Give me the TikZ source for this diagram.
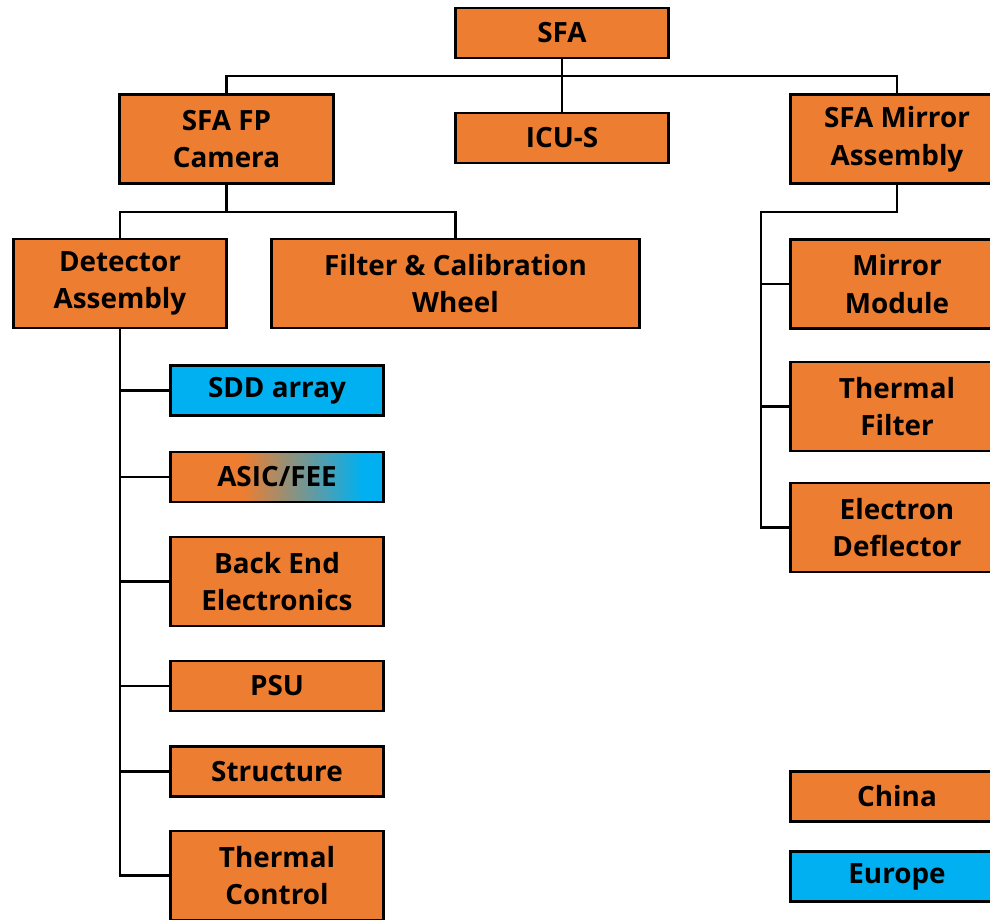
\documentclass[tikz,border=0pt]{standalone}
\usepackage{fontspec}
\setmainfont{Open Sans}
\definecolor{orangebox}{HTML}{ED7D31}
\definecolor{bluebox}{HTML}{00B0F0}
% orange on the left, fading into blue on the right
\pgfdeclarehorizontalshading{asicfade}{100bp}{color(0bp)=(orangebox); color(42bp)=(orangebox); color(70bp)=(bluebox); color(100bp)=(bluebox)}

\begin{document}
\begin{tikzpicture}[x=0.025cm, y=-0.025cm,
    box/.style={draw, line width=2.1pt, fill=orangebox, align=center,
      minimum width=5.325cm, minimum height=1.25cm, inner sep=0pt,
      font=\fontsize{19.8}{26.8}\selectfont\bfseries},
    tall/.style={minimum height=2.225cm},
    eu/.style={fill=bluebox},
    link/.style={line width=2.1pt}]
      \clip (0,0) rectangle (990,919);
      %
      \node[box] (sfa) at (562,33) {SFA};                 % top
      \node[box] (icu) at (562,138) {ICU-S};
      \node[box,tall] (fp) at (226.5,139) {SFA FP\\Camera};
      \node[box,tall] (mirror) at (897,139) {SFA Mirror\\Assembly};
      %
      \node[box,tall] (det) at (120,283.5) {Detector\\Assembly};   % camera parts
      \node[box,tall,minimum width=9.175cm] (wheel) at (455.5,283.5) {Filter \& Calibration\\Wheel};
      %
      \node[box,eu] (sdd) at (277,390.5) {SDD array};      % detector parts
      \node[box,shading=asicfade] (asic) at (277,477) {ASIC/FEE};
      \node[box,tall] (bee) at (277,581.5) {Back End\\Electronics};
      \node[box] (psu) at (277,686) {PSU};
      \node[box] (struct) at (277,771.5) {Structure};
      \node[box,tall] (thermal) at (277,875.5) {Thermal\\Control};
      %
      \node[box,tall] (module) at (897,284) {Mirror\\Module};   % mirror parts
      \node[box,tall] (tfilter) at (897,406.5) {Thermal\\Filter};
      \node[box,tall] (deflector) at (897,527.5) {Electron\\Deflector};
      %
      \node[box] (china) at (897,796.5) {China};           % legend
      \node[box,eu] (europe) at (897,876.5) {Europe};
      %
      \coordinate (bus) at (562,76);                     % joints
      \coordinate (fpbus) at (226.5,212);
      \coordinate (mirbus) at (761,212);
      %
      \draw[link] (sfa) -- (icu);
      \draw[link] (fp.north) |- (bus) -| (mirror.north);
      \draw[link] (fp.south) -- (fpbus);
      \draw[link] (det.north) |- (fpbus) -| (wheel.north);
      %
      \draw[link] (det.south) |- (thermal.west);
      \foreach \n in {sdd,asic,bee,psu,struct}
        \draw[link] (\n.west) -- (\n.west -| det.south);
      %
      \draw[link] (mirror.south) |- (mirbus) |- (deflector.west);
      \foreach \n in {module,tfilter}
        \draw[link] (\n.west) -- (\n.west -| mirbus);
\end{tikzpicture}
\end{document}
